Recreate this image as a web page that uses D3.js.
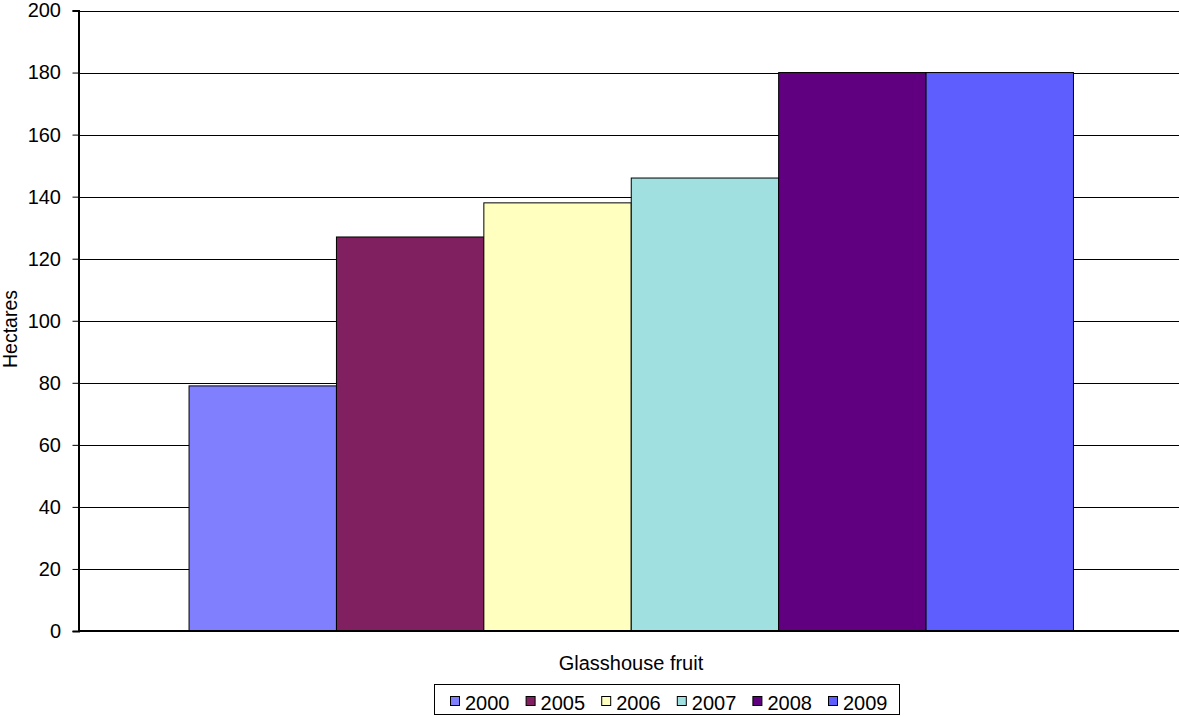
<!DOCTYPE html>
<html><head><meta charset="utf-8">
<script src="https://cdn.jsdelivr.net/npm/d3@7"></script>
<style>body{margin:0;background:#fff}svg{display:block;font-family:"Liberation Sans",Arial,sans-serif}</style>
</head><body><svg id="c" width="1179" height="717"></svg>
<script>
const categories = ["Glasshouse fruit"];
const years = ["2000","2005","2006","2007","2008","2009"];
const values = [79, 127, 138, 146, 180, 180];
const colors = ["#8080FF","#802060","#FFFFC0","#A0E0E0","#600080","#5E5EFF"];
const yTicks = [0,20,40,60,80,100,120,140,160,180,200];

const svg = d3.select("#c");
const L = 78.5, R = 1184, T = 10.5, B = 631;
const y = d3.scaleLinear().domain([0,200]).range([B,T]);
const x0 = d3.scaleBand().domain(categories).range([L,R]).paddingInner(0).paddingOuter(0.125);
const x1 = d3.scaleBand().domain(years).range([0,x0.bandwidth()]);
const color = d3.scaleOrdinal().domain(years).range(colors);

// gridlines
svg.append("g").selectAll("line").data(yTicks.filter(d=>d>0)).join("line")
  .attr("x1",L).attr("x2",1179).attr("y1",d=>Math.round(y(d))+0.5).attr("y2",d=>Math.round(y(d))+0.5)
  .attr("stroke","#000").attr("stroke-width",1);

// bars
const g = svg.append("g").selectAll("g").data(categories).join("g")
  .attr("transform",d=>`translate(${x0(d)},0)`);
g.selectAll("rect").data(years.map((yr,i)=>({yr,v:values[i]}))).join("rect")
  .attr("x",d=>x1(d.yr)).attr("width",x1.bandwidth())
  .attr("y",d=>y(d.v)).attr("height",d=>B-y(d.v))
  .attr("fill",d=>color(d.yr)).attr("stroke","#000").attr("stroke-width",1);

// y axis
const ya = svg.append("g").attr("transform",`translate(${L},0)`)
  .call(d3.axisLeft(y).tickValues(yTicks).tickSize(6).tickPadding(11.5));
ya.select(".domain").attr("stroke","#000").attr("stroke-width",2);
ya.selectAll(".tick line").attr("stroke","#000");
ya.selectAll("text").attr("font-size",20).attr("fill","#000").attr("font-family","Liberation Sans, Arial, sans-serif");

// x baseline
svg.append("line").attr("x1",L).attr("x2",1179).attr("y1",B).attr("y2",B).attr("stroke","#000").attr("stroke-width",2);

// axis titles
svg.append("text").attr("x",631).attr("y",670).attr("text-anchor","middle").attr("font-size",20).text(categories[0]);
svg.append("text").attr("transform","translate(17,329) rotate(-90)").attr("text-anchor","middle").attr("font-size",19.5).text("Hectares");

// legend
const lg = svg.append("g");
lg.append("rect").attr("x",434.5).attr("y",684.5).attr("width",465).attr("height",30).attr("fill","#fff").attr("stroke","#000").attr("stroke-width",1);
const items = lg.selectAll("g").data(years).join("g").attr("transform",(d,i)=>`translate(${450+i*75.6},0)`);
items.append("rect").attr("x",0.5).attr("y",696.5).attr("width",9).attr("height",9).attr("fill",d=>color(d)).attr("stroke","#000");
items.append("text").attr("x",15).attr("y",710).attr("font-size",20).text(d=>d);
</script></body></html>
